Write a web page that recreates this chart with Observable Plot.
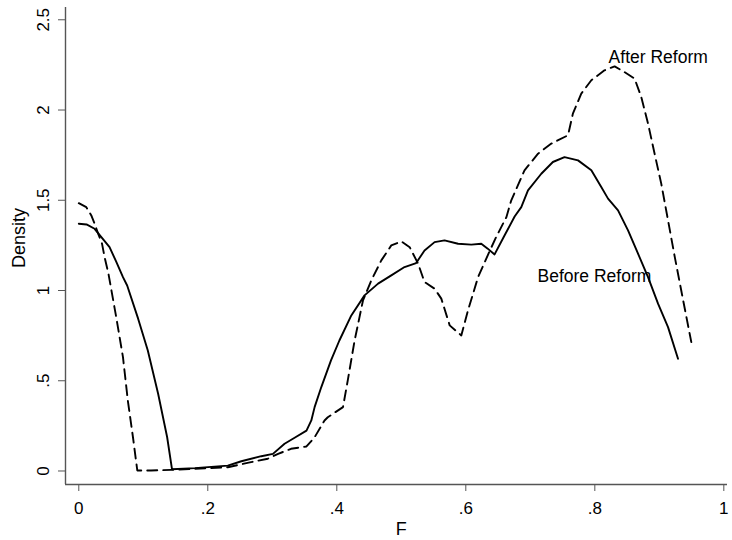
<!DOCTYPE html>
<html>
<head>
<meta charset="utf-8">
<script src="https://cdn.jsdelivr.net/npm/d3@7"></script>
<script src="https://cdn.jsdelivr.net/npm/@observablehq/plot@0.6"></script>
<style>
  html, body { margin: 0; padding: 0; background: #fff; }
  #chart { width: 732px; height: 540px; }
</style>
</head>
<body>
<div id="chart"></div>
<script>
// ---- data ----
const beforeF = [0, 0.012, 0.0245, 0.035, 0.0477, 0.058, 0.0685, 0.075, 0.092, 0.107, 0.123, 0.137, 0.1445,
  0.18, 0.231, 0.252, 0.283, 0.301, 0.319, 0.3346, 0.353, 0.3605, 0.3656, 0.376, 0.391, 0.404, 0.4225, 0.443,
  0.464, 0.4845, 0.505, 0.523, 0.536, 0.5516, 0.567, 0.588, 0.6085, 0.624, 0.634, 0.6446, 0.66, 0.6757, 0.686,
  0.6964, 0.717, 0.735, 0.753, 0.774, 0.7946, 0.81, 0.8205, 0.836, 0.8515, 0.867, 0.8825, 0.898, 0.9135, 0.929];
const beforeD = [1.37, 1.366, 1.342, 1.296, 1.24, 1.16, 1.074, 1.028, 0.844, 0.668, 0.428, 0.187, 0.01,
  0.016, 0.03, 0.054, 0.082, 0.095, 0.151, 0.184, 0.224, 0.28, 0.354, 0.465, 0.613, 0.723, 0.862, 0.973,
  1.038, 1.084, 1.13, 1.152, 1.222, 1.268, 1.278, 1.259, 1.254, 1.259, 1.232, 1.2, 1.305, 1.41, 1.462,
  1.555, 1.647, 1.712, 1.739, 1.721, 1.666, 1.573, 1.509, 1.444, 1.333, 1.204, 1.074, 0.927, 0.797, 0.622];

const afterF = [0, 0.0116, 0.0194, 0.0245, 0.03, 0.036, 0.04, 0.046, 0.058, 0.0685, 0.076, 0.084, 0.0907,
  0.112, 0.143, 0.18, 0.231, 0.267, 0.293, 0.309, 0.329, 0.353, 0.3656, 0.381, 0.386, 0.4096, 0.417, 0.4276,
  0.4406, 0.4535, 0.469, 0.4845, 0.5, 0.513, 0.526, 0.536, 0.5516, 0.562, 0.575, 0.593, 0.6034, 0.619, 0.634,
  0.647, 0.663, 0.6705, 0.691, 0.712, 0.7326, 0.7585, 0.766, 0.779, 0.7946, 0.815, 0.8307, 0.846, 0.8617,
  0.872, 0.8825, 0.8927, 0.903, 0.9135, 0.924, 0.934, 0.942, 0.9496];
const afterD = [1.484, 1.462, 1.416, 1.37, 1.315, 1.26, 1.185, 1.093, 0.853, 0.631, 0.391, 0.187, 0.003,
  0.003, 0.006, 0.012, 0.021, 0.049, 0.068, 0.095, 0.123, 0.136, 0.187, 0.28, 0.298, 0.354, 0.502, 0.723,
  0.945, 1.056, 1.167, 1.25, 1.272, 1.24, 1.149, 1.047, 1.01, 0.955, 0.807, 0.751, 0.89, 1.074, 1.195,
  1.296, 1.407, 1.5, 1.666, 1.758, 1.814, 1.86, 1.98, 2.091, 2.165, 2.22, 2.242, 2.21, 2.174,
  2.072, 1.925, 1.758, 1.592, 1.389, 1.185, 1.0, 0.853, 0.714];

const xTicks = [0, 0.2, 0.4, 0.6, 0.8, 1];
const xTickLabels = ["0", ".2", ".4", ".6", ".8", "1"];
const yTicks = [0, 0.5, 1, 1.5, 2, 2.5];
const yTickLabels = ["0", ".5", "1", "1.5", "2", "2.5"];
const seriesNames = ["Before Reform", "After Reform"];
const xTitle = "F";
const yTitle = "Density";

// ---- tables built from the arrays ----
const before = beforeF.map((f, i) => ({F: f, D: beforeD[i]}));
const after = afterF.map((f, i) => ({F: f, D: afterD[i]}));
const beforePeak = before[d3.maxIndex(before, d => d.D)];
const afterPeak = after[d3.maxIndex(after, d => d.D)];

const xDomain = [-0.0206, 1.0057];
const yDomain = [-0.0748, 2.568];
const axisColor = "#555";
const font = "'Liberation Sans', Arial, Helvetica, sans-serif";

const chart = Plot.plot({
  width: 732,
  height: 540,
  marginLeft: 65,
  marginRight: 5,
  marginTop: 7,
  marginBottom: 56,
  style: {fontFamily: font, fontSize: "17px", color: "black", background: "white"},
  x: {domain: xDomain},
  y: {domain: yDomain},
  marks: [
    // axis lines
    Plot.ruleX([xDomain[0]], {y1: yDomain[0], y2: yDomain[1], stroke: axisColor, strokeWidth: 1.4}),
    Plot.ruleY([yDomain[0]], {x1: xDomain[0], x2: xDomain[1], stroke: axisColor, strokeWidth: 1.6}),
    // axes
    Plot.axisX({ticks: xTicks, tickFormat: (d) => xTickLabels[xTicks.indexOf(d)], tickSize: 7,
      tickPadding: 10, fontSize: 17, label: null, stroke: axisColor, color: "black"}),
    Plot.axisY({ticks: yTicks, tickFormat: (d) => yTickLabels[yTicks.indexOf(d)], tickSize: 7,
      tickPadding: 10, tickRotate: -90, fontSize: 17, label: null, stroke: axisColor}),
    // axis titles
    Plot.text([xTitle], {x: () => 0.5, frameAnchor: "bottom", dy: 50, lineAnchor: "bottom",
      fontSize: 18, fill: "black"}),
    Plot.text([yTitle], {frameAnchor: "left", dx: -46, dy: -8, rotate: -90, lineAnchor: "middle",
      textAnchor: "middle", fontSize: 18, fill: "black"}),
    // density curves
    Plot.line(before, {x: "F", y: "D", stroke: "black", strokeWidth: 1.9}),
    Plot.line(after, {x: "F", y: "D", stroke: "black", strokeWidth: 1.9, strokeDasharray: "10,6"}),
    // curve labels
    Plot.text([afterPeak], {x: "F", y: "D", text: () => seriesNames[1], textAnchor: "start",
      lineAnchor: "bottom", dx: -6, dy: -3, fontSize: 17.5, fill: "black"}),
    Plot.text([beforePeak], {x: "F", y: "D", text: () => seriesNames[0], textAnchor: "start",
      lineAnchor: "bottom", dx: -27, dy: 125, fontSize: 17.5, fill: "black"})
  ]
});
document.getElementById("chart").appendChild(chart);
</script>
</body>
</html>
